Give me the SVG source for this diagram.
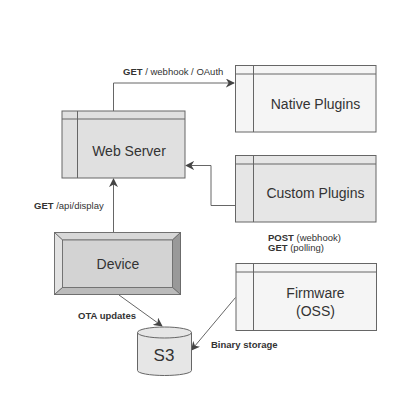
<svg xmlns="http://www.w3.org/2000/svg" width="420" height="420" viewBox="0 0 420 420">
<style>
.box{stroke:#666;stroke-width:1}
.plug{fill:#f5f5f5}
.ln{fill:none;stroke:#666;stroke-width:1}
.lbl{font-family:"Liberation Sans",Arial,sans-serif;font-size:14px;fill:#333;text-anchor:middle}
.sm{font-family:"Liberation Sans",Arial,sans-serif;font-size:9.5px;fill:#333}
.b{font-weight:bold}
.conn{fill:none;stroke:#666;stroke-width:1}
</style>
<defs>
<marker id="ah" viewBox="0 0 10 10" refX="9" refY="5" markerWidth="9" markerHeight="9" markerUnits="userSpaceOnUse" orient="auto">
<path d="M0,0 L10,5 L0,10 L3,5 z" fill="#444"/>
</marker>
</defs>
<rect width="420" height="420" fill="#fff"/>
<g id="connectors">
<path class="conn" d="M113.5,111 V83 H234" marker-end="url(#ah)"/>
<path class="conn" d="M235.5,205.5 H211 V165.5 H186" marker-end="url(#ah)"/>
<path class="conn" d="M113.5,232 V179" marker-end="url(#ah)"/>
<path class="conn" d="M119,295 L162,326" marker-end="url(#ah)"/>
<path class="conn" d="M235.5,297.5 L191.5,350" marker-end="url(#ah)"/>
<text class="sm" x="123" y="75"><tspan class="b">GET</tspan> / webhook / OAuth</text>
<text class="sm" x="34" y="209"><tspan class="b">GET</tspan> /api/display</text>
<text class="sm" x="268" y="241"><tspan class="b">POST</tspan> (webhook)</text>
<text class="sm" x="268" y="251"><tspan class="b">GET</tspan> (polling)</text>
<text class="sm b" x="78" y="319">OTA updates</text>
<text class="sm b" x="211" y="348">Binary storage</text>
</g>
<g id="native-plugins">
<rect class="box plug" x="235.5" y="65.5" width="140.5" height="66.5"/>
<path class="ln" d="M235.5,74 H376 M253.5,65.5 V132"/>
<text class="lbl" x="315.5" y="109">Native Plugins</text>
</g>
<g id="web-server">
<rect class="box" fill="#e0e0e0" x="62" y="111" width="123" height="67"/>
<path class="ln" d="M62,119 H185 M77.5,111 V178"/>
<text class="lbl" x="129" y="155.5">Web Server</text>
</g>
<g id="custom-plugins">
<rect class="box" fill="#e6e6e6" x="235.5" y="155.5" width="140.5" height="66.5"/>
<path class="ln" d="M235.5,164 H376 M253.5,155.5 V222"/>
<text class="lbl" x="315.5" y="198">Custom Plugins</text>
</g>
<g id="device">
<rect x="54.5" y="232.5" width="126" height="62" fill="#d3d3d3" stroke="#666"/>
<polygon points="54.5,232.5 180.5,232.5 172.5,240 62.5,240" fill="#d8d8d8" stroke="#666" stroke-width="0.8"/>
<polygon points="54.5,232.5 62.5,240 62.5,287.5 54.5,294.5" fill="#e2e2e2" stroke="#666" stroke-width="0.8"/>
<polygon points="180.5,232.5 180.5,294.5 172.5,287.5 172.5,240" fill="#999" stroke="#666" stroke-width="0.8"/>
<polygon points="54.5,294.5 62.5,287.5 172.5,287.5 180.5,294.5" fill="#bbb" stroke="#666" stroke-width="0.8"/>
<rect x="62.5" y="240" width="110" height="47.5" fill="#d3d3d3" stroke="#666" stroke-width="0.8"/>
<text class="lbl" x="118" y="269">Device</text>
</g>
<g id="firmware">
<rect class="box plug" x="236" y="263.5" width="140.5" height="67"/>
<path class="ln" d="M236,272 H376.5 M253.5,263.5 V330.5"/>
<text class="lbl" x="315.5" y="298">Firmware</text>
<text class="lbl" x="315.5" y="316">(OSS)</text>
</g>
<g id="s3">
<path d="M137.5,332.5 V370.5 A27,5 0 0 0 191.5,370.5 V332.5" fill="#e6e6e6" stroke="#666"/>
<ellipse cx="164.5" cy="332.5" rx="27" ry="5.5" fill="#e6e6e6" stroke="#666"/>
<text class="lbl" x="164" y="361" style="font-size:17px">S3</text>
</g>
</svg>
